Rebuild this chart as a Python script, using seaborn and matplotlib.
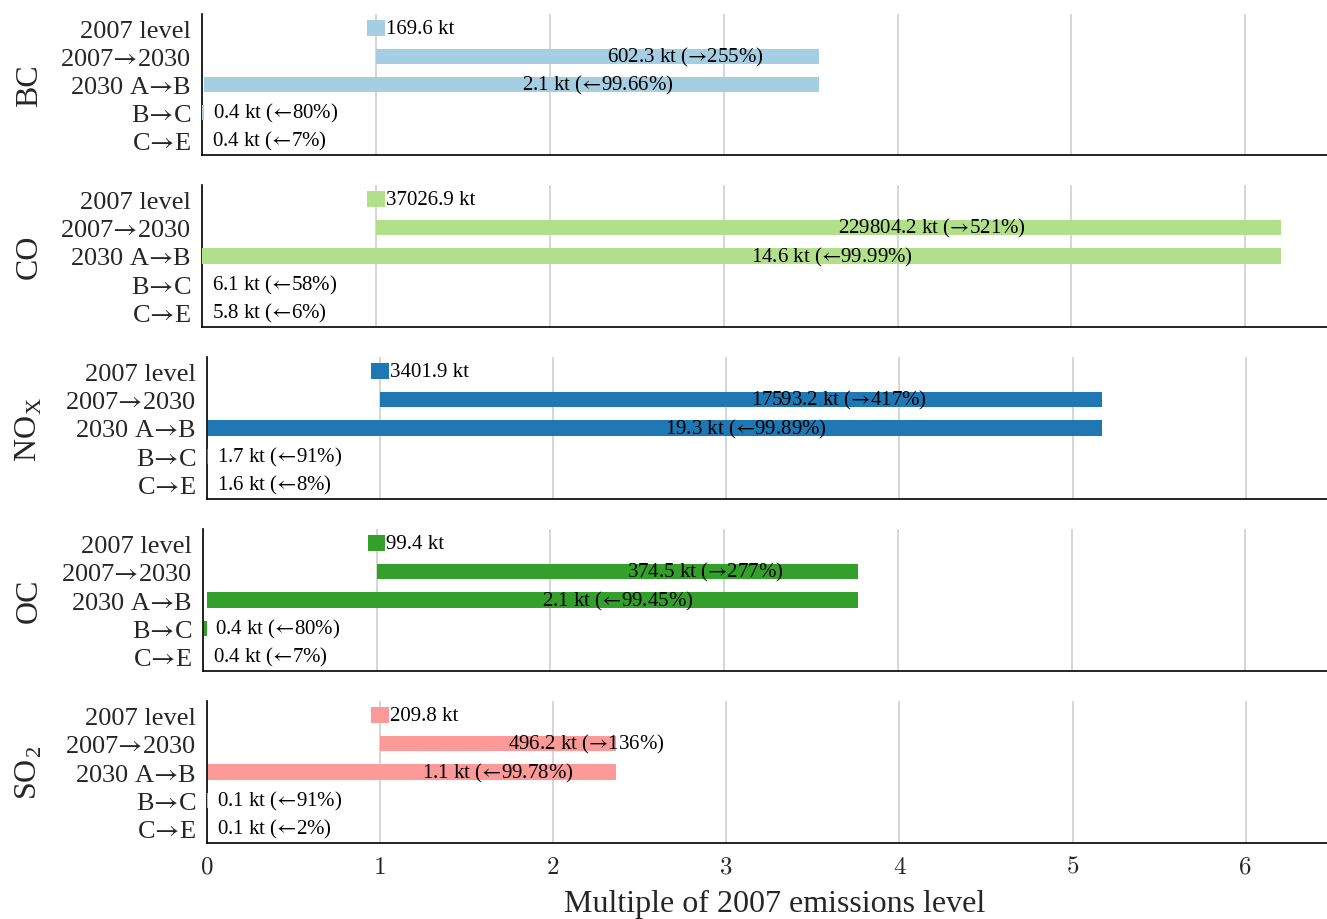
import numpy as np
import pandas as pd
import matplotlib
matplotlib.use("Agg")
import matplotlib.pyplot as plt
import seaborn as sns

# ---------------- data ----------------
pollutants = ["BC", "CO", "NO$_\\mathregular{X}$", "OC", "SO$_\\mathregular{2}$"]
steps = ["2007 level", "2007$→$2030", "2030 A$→$B", "B$→$C", "C$→$E"]
kt_2007 = [169.6, 37026.9, 3401.9, 99.4, 209.8]
kt_2030 = [602.3, 229804.2, 17593.2, 374.5, 496.2]
pct_2030 = ["255", "521", "417", "277", "136"]
kt_B = [2.1, 14.6, 19.3, 2.1, 1.1]
pct_B = ["99.66", "99.99", "99.89", "99.45", "99.78"]
kt_C = [0.4, 6.1, 1.7, 0.4, 0.1]
pct_C = ["80", "58", "91", "80", "91"]
kt_E = [0.4, 5.8, 1.6, 0.4, 0.1]
pct_E = ["7", "6", "8", "7", "2"]
x_ticks = [0, 1, 2, 3, 4, 5, 6]
x_label = "Multiple of 2007 emissions level"

# ---------------- style ----------------
sns.set_theme(style="white")
plt.rcParams["font.family"] = ["Liberation Serif", "DejaVu Serif"]
plt.rcParams["mathtext.fontset"] = "cm"
plt.rcParams["axes.unicode_minus"] = False

RA = "$→$"
LA = "$←$"

colors = sns.color_palette("Paired").as_hex()
pol_colors = [colors[0], colors[2], colors[1], colors[3], colors[4]]

W, H = 1327, 920
fig = plt.figure(figsize=(W / 100, H / 100), dpi=100)

# axes boxes in pixels: left, top, bottom
boxes = [(202, 15, 156), (202, 186, 328), (207, 358, 500), (203, 530, 672), (207, 702, 844)]
LEVEL_HW = 0.05
XMAX = 6.47

for i, name in enumerate(pollutants):
    left, top, bottom = boxes[i]
    ax = fig.add_axes([left / W, 1 - bottom / H, (W - left) / W, (bottom - top) / H])

    base = kt_2007[i]
    r30 = kt_2030[i] / base
    rB = kt_B[i] / base
    rC = kt_C[i] / base
    rE = kt_E[i] / base
    starts = [1 - LEVEL_HW, 1.0, rB, rC, rE]
    ends = [1 + LEVEL_HW, r30, r30, rB, rC]

    df = pd.DataFrame({"step": steps, "width": np.subtract(ends, starts)})
    sns.barplot(data=df, x="width", y="step", order=steps, orient="h",
                color=pol_colors[i], saturation=1, width=0.55, errorbar=None,
                linewidth=0, ax=ax, zorder=3)
    for patch, s in zip(ax.patches, starts):
        patch.set_x(s)

    labels = [
        f"{kt_2007[i]:.1f} kt",
        f"{kt_2030[i]:.1f} kt ({RA}{pct_2030[i]}%)",
        f"{kt_B[i]:.1f} kt ({LA}{pct_B[i]}%)",
        f"{kt_C[i]:.1f} kt ({LA}{pct_C[i]}%)",
        f"{kt_E[i]:.1f} kt ({LA}{pct_E[i]}%)",
    ]
    for j, (s, e, t) in enumerate(zip(starts, ends, labels)):
        ax.annotate(t, xy=((s + e) / 2, j), xytext=(7, 0), textcoords="offset points",
                    ha="left", va="center", fontsize=15, color="black", zorder=5)

    ax.set_xlim(0, XMAX)
    ax.set_ylim(4.5, -0.5)
    ax.set_xticks(x_ticks)
    ax.set_axisbelow(True)
    ax.grid(axis="x", color="#cccccc", linewidth=1.1)
    ax.grid(axis="y", visible=False)
    sns.despine(ax=ax)
    for sp in ["left", "bottom"]:
        ax.spines[sp].set_color("black")
        ax.spines[sp].set_linewidth(1.2)
    ax.set_ylabel("")
    ax.set_xlabel("")
    ax.tick_params(axis="y", length=3, width=0.8, color="#aaaaaa", pad=5, labelsize=19)
    ax.tick_params(axis="x", length=0, pad=9)
    if i < len(pollutants) - 1:
        ax.set_xticklabels([])
    else:
        ax.set_xticklabels([str(t) for t in x_ticks], fontfamily="cmr10", fontsize=18)
        ax.set_xlabel(x_label, fontsize=23, labelpad=8)
        ax.xaxis.label.set_x(0.507)

    ycen = 1 - (top + bottom) / 2 / H
    fig.text(37 / W, ycen, name, rotation=90, rotation_mode="anchor",
             ha="center", va="baseline", fontsize=23)

fig.savefig("out.png", dpi=100)
